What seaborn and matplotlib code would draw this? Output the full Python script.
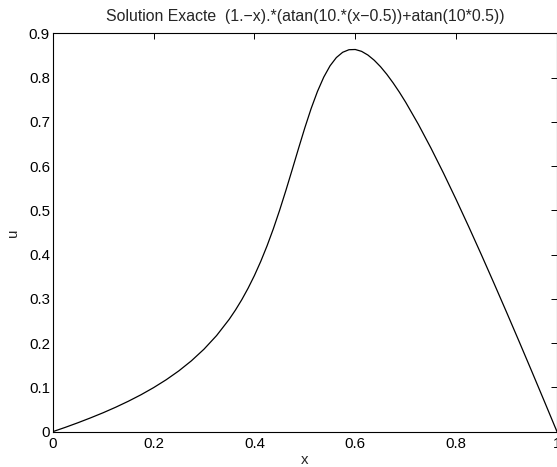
import matplotlib
matplotlib.use("Agg")
import matplotlib.pyplot as plt
import seaborn as sns
import pandas as pd

x_vals = [0.0, 0.025, 0.05, 0.075, 0.1, 0.125, 0.15, 0.175, 0.2, 0.225, 0.25, 0.275, 0.3,
          0.325, 0.35, 0.3625, 0.375, 0.3875, 0.4, 0.4125, 0.425, 0.4375, 0.45, 0.4625,
          0.475, 0.4875, 0.5, 0.5125, 0.525, 0.5375, 0.55, 0.5625, 0.575, 0.5875, 0.6,
          0.6125, 0.625, 0.6375, 0.65, 0.6625, 0.675, 0.6875, 0.7, 0.725, 0.75, 0.775,
          0.8, 0.825, 0.85, 0.875, 0.9, 0.925, 0.95, 0.975, 1.0]
u_vals = [0.0, 0.0098, 0.0202, 0.0312, 0.0428, 0.0553, 0.0688, 0.0834, 0.0995, 0.1173,
          0.1373, 0.1601, 0.1864, 0.2172, 0.2539, 0.2750, 0.2983, 0.3242, 0.3528, 0.3846,
          0.4197, 0.4583, 0.5004, 0.5454, 0.5924, 0.6401, 0.6867, 0.7302, 0.7687, 0.8011,
          0.8267, 0.8453, 0.8572, 0.8630, 0.8635, 0.8593, 0.8510, 0.8393, 0.8247, 0.8075,
          0.7881, 0.7670, 0.7442, 0.6946, 0.6409, 0.5840, 0.5245, 0.4630, 0.3999, 0.3354,
          0.2699, 0.2035, 0.1363, 0.0684, 0.0]
x_ticks = [0, 0.2, 0.4, 0.6, 0.8, 1]
x_ticklabels = ["0", "0.2", "0.4", "0.6", "0.8", "1"]
y_ticks = [0, 0.1, 0.2, 0.3, 0.4, 0.5, 0.6, 0.7, 0.8, 0.9]
y_ticklabels = ["0", "0.1", "0.2", "0.3", "0.4", "0.5", "0.6", "0.7", "0.8", "0.9"]
title = "Solution Exacte  (1.\u2212x).*(atan(10.*(x\u22120.5))+atan(10*0.5))"

sns.set_style("white")
plt.rcParams['font.family'] = ['Liberation Sans', 'DejaVu Sans']

df = pd.DataFrame({"x": x_vals, "u": u_vals})
fig = plt.figure(figsize=(5.57, 4.67), dpi=100)
ax = fig.add_axes([0.0946, 0.0756, 0.9054, 0.853])
sns.lineplot(data=df, x="x", y="u", ax=ax, color="black", linewidth=0.9)
ax.set_xlim(0, 1)
ax.set_ylim(0, 0.9)
ax.set_xticks(x_ticks)
ax.set_xticklabels(x_ticklabels)
ax.set_yticks(y_ticks)
ax.set_yticklabels(y_ticklabels)
ax.tick_params(direction="in", length=4, width=0.7, top=True, right=True,
               labelsize=10.8, colors="black")
ax.tick_params(axis="x", pad=4)
ax.tick_params(axis="y", pad=2)
for s in ax.spines.values():
    s.set_color("black")
    s.set_linewidth(0.8)
ax.set_xlabel("x", fontsize=10.8, labelpad=1)
ax.set_ylabel("u", fontsize=10.8, labelpad=6)
ax.set_title(title, fontsize=11.4, pad=9)
fig.savefig("out.png", dpi=100, facecolor="white")
